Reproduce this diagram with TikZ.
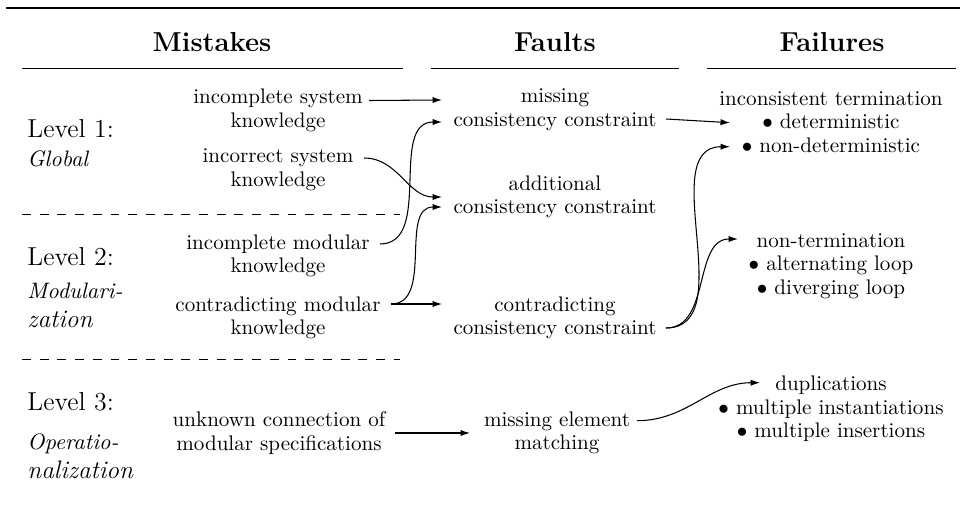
\documentclass[tikz,border=0pt]{standalone}
\usetikzlibrary{calc,arrows.meta}
\begin{document}
\begin{tikzpicture}[x=0.4744pt,y=-0.4744pt,
  txt/.style={align=center,font=\fontsize{10}{11.2}\selectfont},
  hdr/.style={font=\bfseries\fontsize{13}{15}\selectfont},
  lvl/.style={anchor=base west,inner sep=0pt,font=\fontsize{12.3}{14}\selectfont},
  lvlsub/.style={anchor=base west,inner sep=0pt,font=\itshape\fontsize{10.6}{12}\selectfont},
  lvlsubl/.style={anchor=base west,inner sep=0pt,font=\itshape\fontsize{12}{14}\selectfont},
  arr/.style={-{Latex[length=4.5pt,width=3pt]},line width=0.5pt},
  thinrule/.style={line width=0.45pt},
  dashrule/.style={line width=0.45pt,dash pattern=on 4.2pt off 4.2pt}]
\useasboundingbox (0,0) rectangle (960,507);

% rules
\draw[line width=1.4pt] (6,8) -- (960,8);
\node[hdr] (hM) at (212,42) {Mistakes};
\node[hdr] (hF) at (555,42) {Faults};
\node[hdr] (hR) at (832,42) {Failures};
\draw[thinrule] (22,68) -- (403,68);
\draw[thinrule] (431,68) -- (679,68);
\draw[thinrule] (707,68) -- (956,68);
\draw[dashrule] (22,214) -- (400,214);
\draw[dashrule] (22,359) -- (400,359);

% level labels
\node[lvl] (l1) at (27,137) {Level 1:};
\node[lvlsub] (l1s) at (27,166) {Global};
\node[lvl] (l2) at (27,265) {Level 2:};
\node[lvlsub] (l2s) at (27,298) {Modulari-};
\node[lvlsubl] (l2t) at (27,327) {zation};
\node[lvl] (l3) at (27,410) {Level 3:};
\node[lvlsub] (l3s) at (27,449) {Operatio-};
\node[lvlsubl] (l3t) at (27,478) {nalization};

% mistakes
\node[txt] (m1) at (278,110.5) {incomplete system\\knowledge};
\node[txt] (m2) at (278,170) {incorrect system\\knowledge};
\node[txt] (m3) at (278,256) {incomplete modular\\knowledge};
\node[txt] (m4) at (278,318) {contradicting modular\\knowledge};
\node[txt] (m5) at (279,433) {unknown connection of\\modular specifications};

% faults
\node[txt] (f1) at (555,110) {missing\\consistency constraint};
\node[txt] (f2) at (555,197) {additional\\consistency constraint};
\node[txt] (f3) at (555,318) {contradicting\\consistency constraint};
\node[txt] (f4) at (557,433) {missing element\\matching};

% failures
\node[txt] (F1) at (831,122) {inconsistent termination\\$\bullet$ deterministic\\$\bullet$ non-deterministic};
\node[txt] (F2) at (831,266) {non-termination\\$\bullet$ alternating loop\\$\bullet$ diverging loop};
\node[txt] (F3) at (831,409) {duplications\\$\bullet$ multiple instantiations\\$\bullet$ multiple insertions};

% connectors
\draw[arr] ($(m1.center)+(91,-10)$) -- ($(f1.center)+(-113,-10)$);
\draw[arr] ($(m3.center)+(102,-12)$) to[out=0,in=180] ($(f1.center)+(-113,12)$);
\draw[arr] ($(m2.center)+(86,-12)$) to[out=0,in=180] ($(f2.center)+(-113,0)$);
\draw[arr] ($(m4.center)+(113,-14)$) to[out=0,in=180] ($(f2.center)+(-113,10)$);
\draw[arr] ($(m4.center)+(113,-14)$) -- ($(f3.center)+(-113,-14)$);
\draw[arr] ($(f1.center)+(111,9)$) -- ($(F1.center)+(-101,0.7)$);
\draw[arr] ($(f3.center)+(111,10)$) to[out=0,in=180] ($(F1.center)+(-101,24.7)$);
\draw[arr] ($(f3.center)+(111,10)$) to[out=0,in=180] ($(F2.center)+(-93,-27)$);
\draw[arr] ($(m5.center)+(116,0)$) -- ($(f4.center)+(-87,0)$);
\draw[arr] ($(f4.center)+(80,-12.3)$) to[out=0,in=180] ($(F3.center)+(-71,-26.3)$);
\end{tikzpicture}
\end{document}
